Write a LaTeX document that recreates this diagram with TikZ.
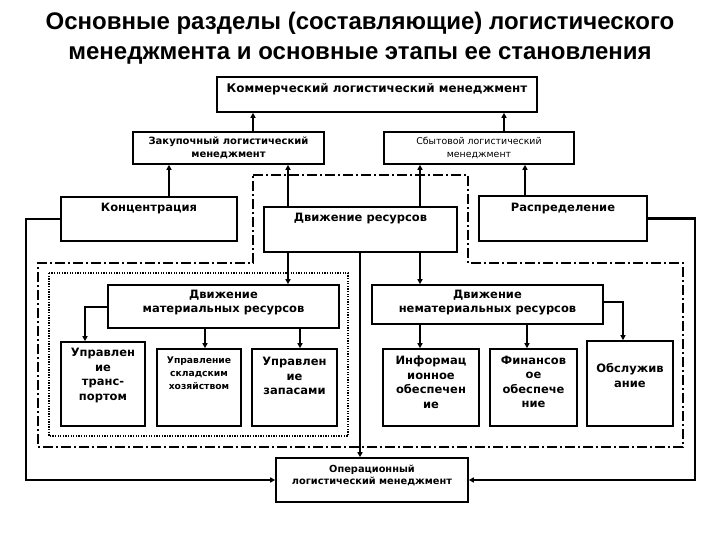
\documentclass[tikz,border=0pt]{standalone}
\usepackage{fontspec}
\setmainfont{DejaVu Sans}
\newfontfamily\titlefont{Liberation Sans}
\usetikzlibrary{arrows.meta}

\tikzset{
	box/.style={draw, line width=1.6pt, inner sep=0pt},
	lbl/.style={font=\bfseries\fontsize{11.5}{14.5}\selectfont, align=center, inner sep=0pt},
	small/.style={font=\bfseries\fontsize{10}{12.5}\selectfont, align=center, inner sep=0pt},
	arr/.style={line width=1.6pt, -{Triangle[length=5pt,width=5pt]}},
	outer/.style={line width=2.2pt, -{Triangle[length=5pt,width=5pt]}},
}

\begin{document}
\begin{tikzpicture}[x=1pt,y=-1pt]
		\useasboundingbox (0,0) rectangle (720,540);

		\node[align=center, font=\titlefont\bfseries\fontsize{24}{30}\selectfont] (t) at (360,38) {Основные разделы (составляющие) логистического\\менеджмента и основные этапы ее становления};

		% frames
		\draw[line width=1.6pt, dash pattern=on 10pt off 3pt on 2pt off 3pt] (253,175) -- (468,175) -- (468,263) -- (683,263) -- (683,447) -- (38,447) -- (38,263) -- (253,263) -- cycle;
		\draw[line width=1.3pt, dash pattern=on 1.3pt off 1.3pt] (49,273) rectangle (348,436);

		\node[box, minimum width=320, minimum height=35, label={[small, font=\bfseries\fontsize{11.9}{12}\selectfont, yshift=5.5pt]center:Коммерческий логистический менеджмент}] (a1) at (377,94.5) {};

		\node[box, minimum width=191, minimum height=32, label={[small]center:Закупочный логистический\\менеджмент}] (b1) at (228.5,148) {};
		\node[box, minimum width=190, minimum height=32, label={[small, font=\fontsize{9.4}{12.5}\selectfont]center:Сбытовой логистический\\менеджмент}] (b2) at (479,148) {};

		\node[box, minimum width=176, minimum height=44, label={[lbl, yshift=10pt]center:Концентрация}] (c1) at (149,219) {};
		\node[box, minimum width=193, minimum height=45, label={[lbl, yshift=10.5pt]center:Движение ресурсов}] (c2) at (360.5,229.5) {};
		\node[box, minimum width=168, minimum height=45, label={[lbl, yshift=9.5pt]center:Распределение}] (c3) at (563,218.5) {};

		\node[box, minimum width=231, minimum height=43, label={[lbl, yshift=4pt]center:Движение\\материальных ресурсов}] (d1) at (223.5,306.5) {};
		\node[box, minimum width=231, minimum height=39, label={[lbl, yshift=2pt]center:Движение\\нематериальных ресурсов}] (d2) at (487.5,304.5) {};

		\node[box, minimum width=84, minimum height=84, label={[lbl, yshift=8.5pt]center:Управлен\\ие\\транс-\\портом}] (e1) at (103,384) {};
		\node[box, minimum width=84, minimum height=77, label={[small, font=\bfseries\fontsize{9.2}{13}\selectfont, yshift=14.5pt]center:Управление\\складским\\хозяйством}] (e2) at (199,387.5) {};
		\node[box, minimum width=85, minimum height=77, label={[lbl, yshift=11.5pt]center:Управлен\\ие\\запасами}] (e3) at (294.5,387.5) {};
		\node[box, minimum width=96, minimum height=77, label={[lbl, yshift=5.5pt]center:Информац\\ионное\\обеспечен\\ие}] (e4) at (431,387.5) {};
		\node[box, minimum width=87, minimum height=77, label={[lbl, yshift=5.5pt]center:Финансов\\ое\\обеспече\\ние}] (e5) at (533.5,387.5) {};
		\node[box, minimum width=86, minimum height=85, label={[lbl, yshift=8pt]center:Обслужив\\ание}] (e6) at (630,383.5) {};

		\node[box, minimum width=192, minimum height=44, label={[small, font=\bfseries\fontsize{9.8}{12.5}\selectfont, yshift=4.5pt]center:Операционный\\логистический менеджмент}] (f1) at (372,480) {};

		% upwards
		\draw[arr] (253,0 |- b1.north) -- (253,0 |- a1.south);
		\draw[arr] (504,0 |- b2.north) -- (504,0 |- a1.south);
		\draw[arr] (169,0 |- c1.north) -- (169,0 |- b1.south);
		\draw[arr] (288,0 |- c2.north) -- (288,0 |- b1.south);
		\draw[arr] (420,0 |- c2.north) -- (420,0 |- b2.south);
		\draw[arr] (525,0 |- c3.north) -- (525,0 |- b2.south);

		% downwards
		\draw[arr] (288,0 |- c2.south) -- (288,0 |- d1.north);
		\draw[arr] (420,0 |- c2.south) -- (420,0 |- d2.north);
		\draw[arr] (360,0 |- c2.south) -- (360,0 |- f1.north);

		\draw[arr] (d1.west |- 0,307) -| (85,0 |- e1.north);
		\draw[arr] (205,0 |- d1.south) -- (205,0 |- e2.north);
		\draw[arr] (300,0 |- d1.south) -- (300,0 |- e3.north);
		\draw[arr] (420,0 |- d2.south) -- (420,0 |- e4.north);
		\draw[arr] (527,0 |- d2.south) -- (527,0 |- e5.north);
		\draw[arr] (d2.east |- 0,302) -| (623,0 |- e6.north);

		\draw[outer] (c1.west) -- (26,0 |- c1.west) |- (f1.west);
		\draw[outer] (c3.east) -- (695,0 |- c3.east) |- (f1.east);
	\end{tikzpicture}
\end{document}
